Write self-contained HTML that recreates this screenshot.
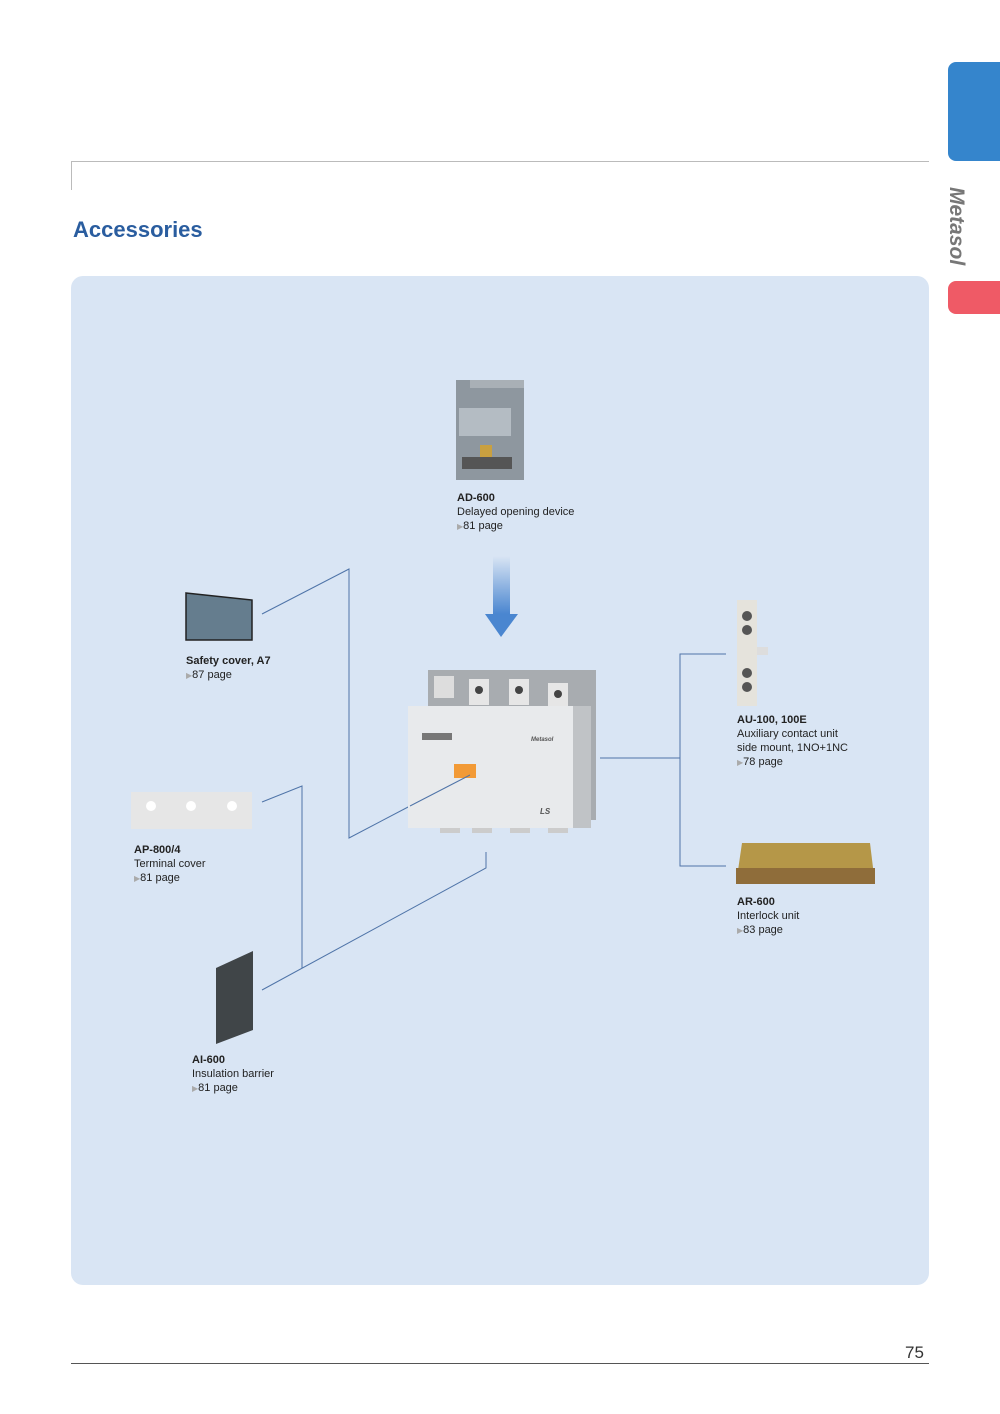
<!DOCTYPE html>
<html><head><meta charset="utf-8"><style>
body{margin:0;width:1000px;height:1414px;background:#fff;position:relative;font-family:"Liberation Sans",sans-serif;overflow:hidden}
.a{position:absolute}
.lbl{position:absolute;font-size:11px;line-height:14px;color:#222}
.lbl b{font-weight:bold}
.tri{color:#aaa;font-size:8px}
</style></head><body>
<div class="a" style="left:71px;top:161px;width:858px;height:1px;background:#bbb"></div>
<div class="a" style="left:71px;top:161px;width:1px;height:29px;background:#bbb"></div>
<div class="a" style="left:73px;top:217px;font-size:22px;font-weight:bold;color:#2a5d9f">Accessories</div>
<div class="a" style="left:948px;top:62px;width:52px;height:99px;background:#3585cc;border-radius:8px 0 0 8px"></div>
<div class="a" style="left:948px;top:281px;width:52px;height:33px;background:#ef5a66;border-radius:8px 0 0 8px"></div>
<div class="a" style="left:921px;top:210px;transform:rotate(90deg);font-size:21px;font-weight:bold;font-style:italic;color:#777;transform-origin:center;width:70px;text-align:center">Metasol</div>
<div class="a" style="left:71px;top:276px;width:858px;height:1009px;background:#d9e5f4;border-radius:12px"></div>

<svg class="a" style="left:0;top:0" width="1000" height="1414">
<g stroke="#4f74a8" stroke-width="1" fill="none">
<polyline points="262,614 349,569 349,838 410,806"/>
<polyline points="262,802 302,786 302,968"/>
<polyline points="262,990 486,868 486,852"/>
<polyline points="600,758 680,758"/>
<polyline points="726,654 680,654 680,866 726,866"/>
</g>
<defs><linearGradient id="ag" x1="0" y1="0" x2="0" y2="1"><stop offset="0" stop-color="#d9e5f4"/><stop offset="1" stop-color="#4a86d0"/></linearGradient></defs>
<rect x="493" y="556" width="17" height="58" fill="url(#ag)"/>
<polygon points="485,614 518,614 501,637" fill="#4a86d0"/>
<!-- AD-600 -->
<rect x="456" y="380" width="68" height="100" fill="#8e979f"/>
<rect x="470" y="380" width="54" height="8" fill="#a9b0b6"/>
<rect x="459" y="408" width="52" height="28" fill="#b4bcc3"/>
<rect x="462" y="457" width="50" height="12" fill="#555"/>
<rect x="480" y="445" width="12" height="12" fill="#c9a040"/>
<!-- contactor -->
<rect x="428" y="670" width="168" height="150" fill="#a8acb0"/>
<rect x="434" y="676" width="20" height="22" fill="#ddd"/>
<rect x="469" y="679" width="20" height="26" fill="#e6e6e6"/><circle cx="479" cy="690" r="4" fill="#444"/>
<rect x="509" y="679" width="20" height="26" fill="#e6e6e6"/><circle cx="519" cy="690" r="4" fill="#444"/>
<rect x="548" y="683" width="20" height="26" fill="#e6e6e6"/><circle cx="558" cy="694" r="4" fill="#444"/>
<rect x="408" y="706" width="165" height="122" fill="#e8eaec"/>
<rect x="573" y="706" width="18" height="122" fill="#c0c3c6"/>
<rect x="422" y="733" width="30" height="7" fill="#777"/>
<text x="531" y="741" font-size="6" font-style="italic" font-weight="bold" fill="#555">Metasol</text>
<text x="540" y="814" font-size="8" font-style="italic" font-weight="bold" fill="#555">LS</text>
<rect x="454" y="764" width="22" height="14" fill="#f29a36"/>
<line x1="410" y1="806" x2="470" y2="775" stroke="#4f74a8" stroke-width="1"/>
<rect x="440" y="828" width="20" height="5" fill="#ccc"/><rect x="472" y="828" width="20" height="5" fill="#ccc"/><rect x="510" y="828" width="20" height="5" fill="#ccc"/><rect x="548" y="828" width="20" height="5" fill="#ccc"/>
<!-- safety cover -->
<path d="M186,593 L252,600 L252,640 L186,640 Z" fill="#657d8e" stroke="#222" stroke-width="1.5"/>
<!-- AP -->
<rect x="131" y="792" width="121" height="37" fill="#e6e6e6"/>
<circle cx="151" cy="806" r="5" fill="#fff"/><circle cx="191" cy="806" r="5" fill="#fff"/><circle cx="232" cy="806" r="5" fill="#fff"/>
<!-- AI -->
<polygon points="216,968 253,951 253,1030 216,1044" fill="#404548"/>
<!-- AU -->
<rect x="737" y="600" width="20" height="106" fill="#e5e3dc"/>
<rect x="757" y="647" width="11" height="8" fill="#ddd"/>
<circle cx="747" cy="616" r="5" fill="#555"/><circle cx="747" cy="630" r="5" fill="#555"/>
<circle cx="747" cy="673" r="5" fill="#555"/><circle cx="747" cy="687" r="5" fill="#555"/>
<!-- AR -->
<polygon points="742,843 870,843 875,884 736,884" fill="#b59748"/>
<rect x="736" y="868" width="139" height="16" fill="#8f6d3a"/>
</svg>

<div class="lbl" style="left:457px;top:491px"><b>AD-600</b><br>Delayed opening device<br><span class="tri">▶</span>81 page</div>
<div class="lbl" style="left:186px;top:654px"><b>Safety cover, A7</b><br><span class="tri">▶</span>87 page</div>
<div class="lbl" style="left:737px;top:713px"><b>AU-100, 100E</b><br>Auxiliary contact unit<br>side mount, 1NO+1NC<br><span class="tri">▶</span>78 page</div>
<div class="lbl" style="left:134px;top:843px"><b>AP-800/4</b><br>Terminal cover<br><span class="tri">▶</span>81 page</div>
<div class="lbl" style="left:737px;top:895px"><b>AR-600</b><br>Interlock unit<br><span class="tri">▶</span>83 page</div>
<div class="lbl" style="left:192px;top:1053px"><b>AI-600</b><br>Insulation barrier<br><span class="tri">▶</span>81 page</div>

<div class="a" style="left:71px;top:1363px;width:858px;height:1px;background:#555"></div>
<div class="a" style="left:905px;top:1343px;font-size:17px;color:#333">75</div>
</body></html>
